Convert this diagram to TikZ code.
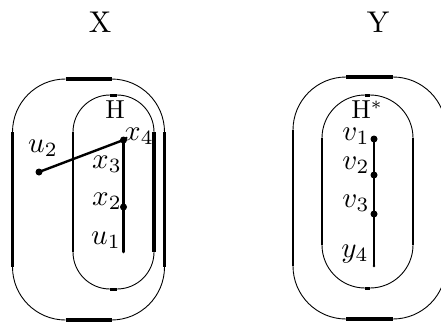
\documentclass[tikz,border=0pt]{standalone}
\usepackage{graphicx}
\newcommand\lbl[2]{\scalebox{#1}{#2}}
\begin{document}
\begin{tikzpicture}[x=1pt,y=1pt,
  thinln/.style={line width=0.9pt},
  bigdot/.style={circle,fill,inner sep=0pt,minimum size=7pt},
  smalldot/.style={circle,fill,inner sep=0pt,minimum size=2.6pt},
  edge/.style={line width=2.4pt},
  lab/.style={inner sep=0pt}]
\useasboundingbox (0,0) rectangle (441,322);
\clip (0,0) rectangle (441,322);
% stadium: #1 cx, #2 top, #3 bottom, #4 half width, #5 radius, #6 top/bottom lw, #7 left lw, #8 right lw
\newcommand\mystad[8]{%
  \draw[thinln] (#1-#4,#2-#5) arc[start angle=180,end angle=90,radius=#5];
  \draw[thinln] (#1+#4-#5,#2) arc[start angle=90,end angle=0,radius=#5];
  \draw[thinln] (#1+#4,#3+#5) arc[start angle=0,end angle=-90,radius=#5];
  \draw[thinln] (#1-#4+#5,#3) arc[start angle=-90,end angle=-180,radius=#5];
  \draw[line width=#6] (#1-#4+#5,#2) -- (#1+#4-#5,#2);
  \draw[line width=#6] (#1-#4+#5,#3) -- (#1+#4-#5,#3);
  \draw[line width=#7] (#1-#4,#2-#5) -- (#1-#4,#3+#5);
  \draw[line width=#8] (#1+#4,#2-#5) -- (#1+#4,#3+#5);
}
% X
\mystad{88.5}{243}{2}{76}{53}{3.5pt}{2.8pt}{2.2pt}
\mystad{113.5}{227}{33}{40.5}{37}{3pt}{2.8pt}{4pt}
% Y
\mystad{369.5}{245}{3}{76.5}{53}{3.5pt}{2.8pt}{2.8pt}
\mystad{367.5}{227}{34}{45.5}{43}{3pt}{2.8pt}{2.8pt}

\node[lab] (tX) at (100,300) {\lbl{3.0}{X}};
\node[lab] (tY) at (378,300) {\lbl{3.0}{Y}};

\node[bigdot] (x4) at (123.5,182) {};
\node[smalldot] (x3) at (123.5,151) {};
\node[bigdot] (x2) at (123.5,115) {};
\node[smalldot] (u1) at (123.5,70) {};
\node[bigdot] (u2) at (39,150) {};
\draw[edge] (x4.center) -- (x3.center) -- (x2.center) -- (u1.center);
\draw[edge] (u2.center) -- (x4.center);

\node[lab] (H) at (115,212) {\lbl{2.6}{H}};
\node[lab] (lx4) at (139,186) {\lbl{2.9}{$x_4$}};
\node[lab] (lx3) at (107,158) {\lbl{2.9}{$x_3$}};
\node[lab] (lx2) at (107,121) {\lbl{2.9}{$x_2$}};
\node[lab] (lu1) at (106,82) {\lbl{2.9}{$u_1$}};
\node[lab] (lu2) at (43,174) {\lbl{2.9}{$u_2$}};

\node[bigdot] (v1) at (374,183) {};
\node[bigdot] (v2) at (374,147) {};
\node[bigdot] (v3) at (374,108) {};
\node[smalldot] (y4) at (374,56) {};
\draw[edge] (v1.center) -- (v2.center) -- (v3.center) -- (y4.center);

\node[lab] (Hs) at (367,212) {\lbl{2.6}{H$^*$}};
\node[lab] (lv1) at (356,186) {\lbl{2.9}{$v_1$}};
\node[lab] (lv2) at (356,157) {\lbl{2.9}{$v_2$}};
\node[lab] (lv3) at (356,119) {\lbl{2.9}{$v_3$}};
\node[lab] (ly4) at (355,68) {\lbl{2.9}{$y_4$}};
\end{tikzpicture}
\end{document}
